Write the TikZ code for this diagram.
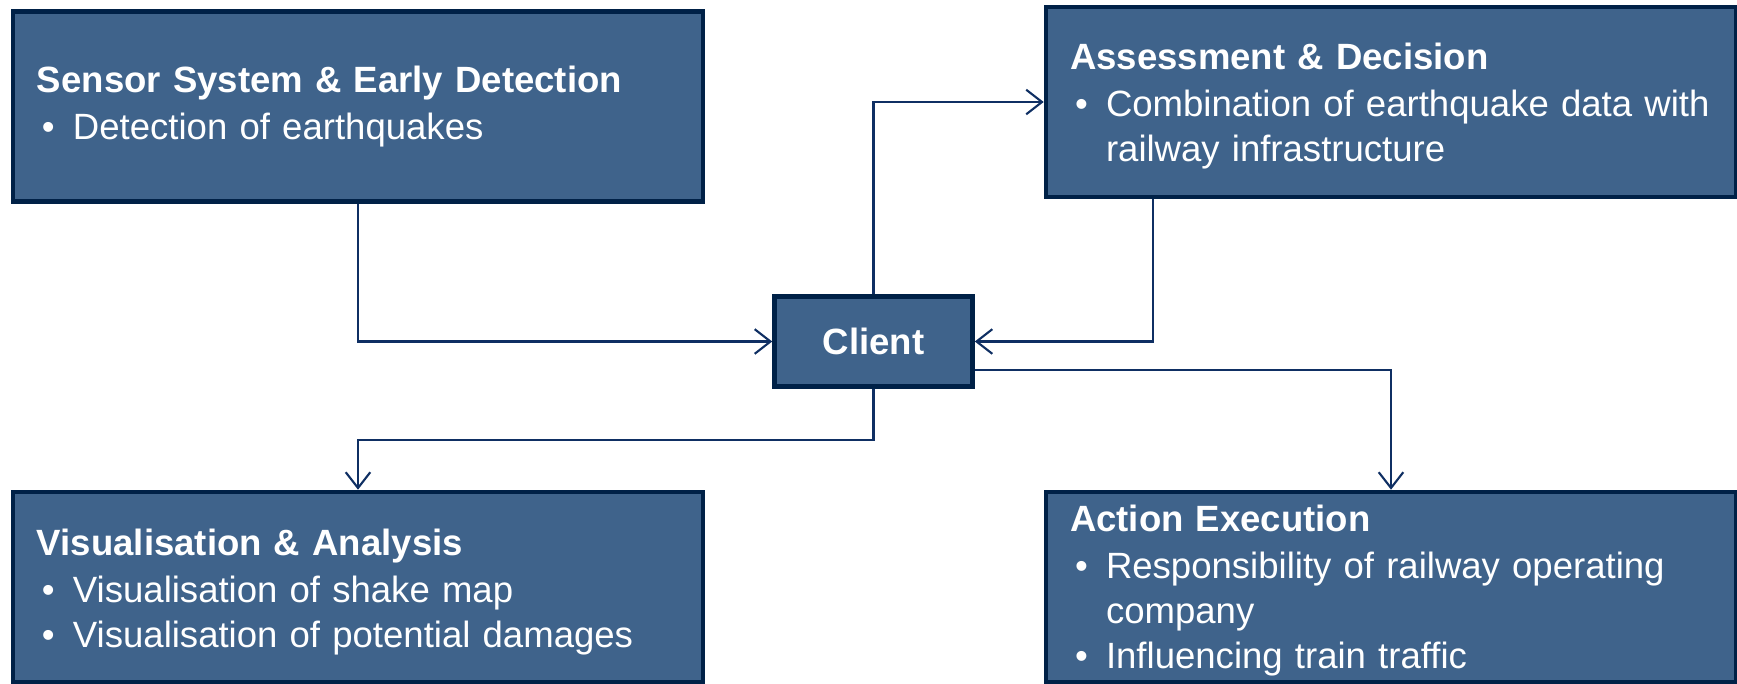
\documentclass[tikz,border=0pt]{standalone}
\usepackage{fontspec}
\setmainfont{Liberation Sans}
\usetikzlibrary{arrows.meta}
\definecolor{boxfill}{HTML}{3F638B}
\definecolor{boxline}{HTML}{002147}
\definecolor{wire}{HTML}{0F2F63}
\newcommand{\ttl}[2][0pt]{\rule{0pt}{\dimexpr7.6pt+#1\relax}\textbf{#2}\par\vspace{0.6pt}}
\newcommand{\itm}[1]{\par\hangindent=0.36cm\hangafter=1\noindent\makebox[0.36cm][l]{\hspace{0.05cm}\textbullet}#1\par}
\begin{document}
\begin{tikzpicture}[
    font=\fontsize{10.4}{12.8}\selectfont,
    box/.style={draw=boxline, line width=1.3pt, fill=boxfill, text=white,
      minimum width=6.9cm, minimum height=1.9cm, text width=6.42cm,
      inner xsep=0.24cm, inner ysep=0pt, align=left},
    hub/.style={draw=boxline, line width=1.3pt, fill=boxfill, text=white,
      minimum width=1.98cm, minimum height=0.9cm}
  ]
  \useasboundingbox (0,0) rectangle (17.37,-6.84);
  \draw
    (3.58,-1.065) node[box] (sensor){\ttl{Sensor System \& Early Detection}\itm{Detection of earthquakes}}
    (13.91,-1.02) node[box] (assess){\ttl[2pt]{Assessment \& Decision}\itm{Combination of earthquake data with railway infrastructure}}
    (8.735,-3.415) node[hub] (client){\textbf{Client}}
    (3.58,-5.87) node[box] (visual){\ttl[2.8pt]{Visualisation \& Analysis}\itm{Visualisation of shake map}\itm{Visualisation of potential damages}}
    (13.91,-5.87) node[box] (action){\ttl[2pt]{Action Execution}\itm{Responsibility of railway operating company}\itm{Influencing train traffic}};
  \begin{scope}[draw=wire, line width=0.6pt, -{Straight Barb[length=4.5pt,width=7pt]}]
    \draw (sensor.south) |- (client.west);
    \draw (client.north) |- (assess.west);
    \draw ([xshift=1.09cm]assess.south west) |- (client.east);
    \draw ([yshift=-0.285cm]client.east) -| (action.north);
    \draw (client.south) -- ++(0,-0.51) -| (visual.north);
  \end{scope}
\end{tikzpicture}
\end{document}
